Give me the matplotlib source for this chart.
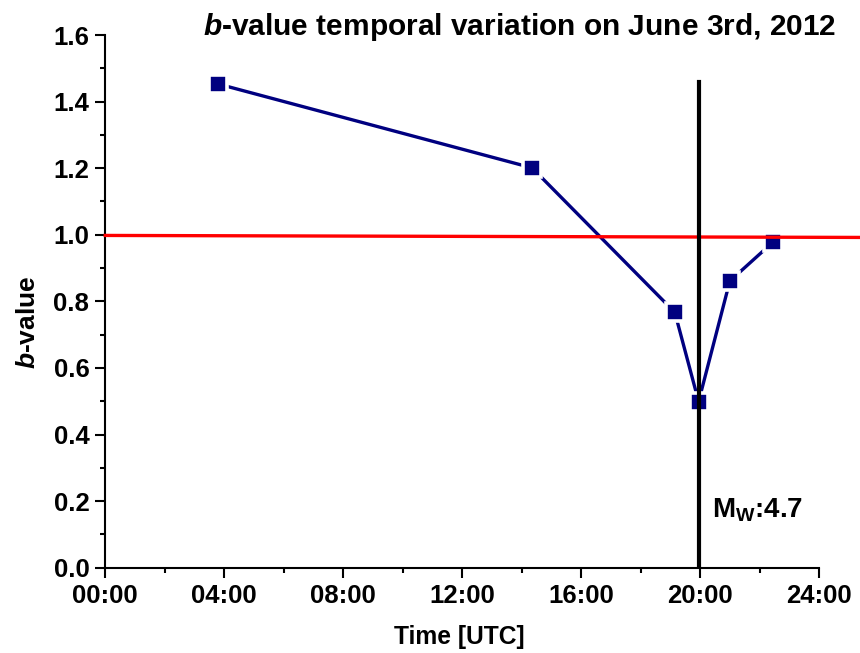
import numpy as np
import matplotlib
matplotlib.use("Agg")
import matplotlib.pyplot as plt
from matplotlib.ticker import MultipleLocator, FuncFormatter

plt.rcParams['font.family'] = ['Liberation Sans', 'DejaVu Sans']
plt.rcParams['font.weight'] = 'bold'
plt.rcParams['mathtext.fontset'] = 'custom'
plt.rcParams['mathtext.rm'] = 'Liberation Sans:bold'
plt.rcParams['mathtext.bf'] = 'Liberation Sans:bold'
plt.rcParams['mathtext.it'] = 'Liberation Sans:bold:italic'

# data (time in hours UTC)
time_h = [3.79, 14.35, 19.15, 19.95, 21.0, 22.45]
b_value = [1.453, 1.201, 0.767, 0.499, 0.861, 0.978]

# reference line b = 1 (drawn slightly tilted in the original)
ref_t = [0.0, 25.37]
ref_b = [0.998, 0.992]

# main shock
quake_t = 19.95
quake_top = 1.46
quake_label = r'M$_\mathregular{W}$:4.7'

fig = plt.figure(figsize=(8.6, 6.53), dpi=100)
ax = fig.add_axes([0.1224, 0.1306, 0.83, 0.8158])

ax.plot(time_h, b_value, '-', color='#000080', lw=2.4, zorder=2)
# white edge gives the little gap between line and marker
ax.plot(time_h, b_value, 's', color='#000080', ms=13.4,
        mec='white', mew=2.6, zorder=3)
ax.plot(ref_t, ref_b, '-', color='#ff0000', lw=2.4, clip_on=False, zorder=4)
ax.plot([quake_t, quake_t], [0, quake_top], '-', color='black', lw=3, zorder=5)
ax.text(quake_t + 0.45, 0.15, quake_label, fontsize=20, fontweight='bold')

ax.set_xlim(0, 24)
ax.set_ylim(0, 1.6)
ax.xaxis.set_major_locator(MultipleLocator(4))
ax.xaxis.set_minor_locator(MultipleLocator(2))
ax.xaxis.set_major_formatter(FuncFormatter(lambda v, p: '%02d:00' % int(round(v))))
ax.yaxis.set_major_locator(MultipleLocator(0.2))
ax.yaxis.set_minor_locator(MultipleLocator(0.1))
ax.yaxis.set_major_formatter(FuncFormatter(lambda v, p: '%.1f' % v))

for s in ['top', 'right']:
    ax.spines[s].set_visible(False)
for s in ['left', 'bottom']:
    ax.spines[s].set_linewidth(1.5)
ax.tick_params(which='major', direction='out', length=7.5, width=1.5,
               labelsize=18.5, pad=4)
ax.tick_params(which='minor', direction='out', length=3.5, width=1.5)
for lab in ax.get_xticklabels() + ax.get_yticklabels():
    lab.set_fontweight('bold')

fig.text(0.604, 0.946, r'$b$-value temporal variation on June 3rd, 2012',
         ha='center', va='baseline', fontsize=21.5, fontweight='bold')
fig.text(0.534, 0.014, 'Time [UTC]', ha='center', va='baseline',
         fontsize=17.7, fontweight='bold')
fig.text(0.032, 0.507, r'$b$-value', ha='center', va='center', rotation=90,
         fontsize=19, fontweight='bold')

fig.savefig('out.png', dpi=100)
